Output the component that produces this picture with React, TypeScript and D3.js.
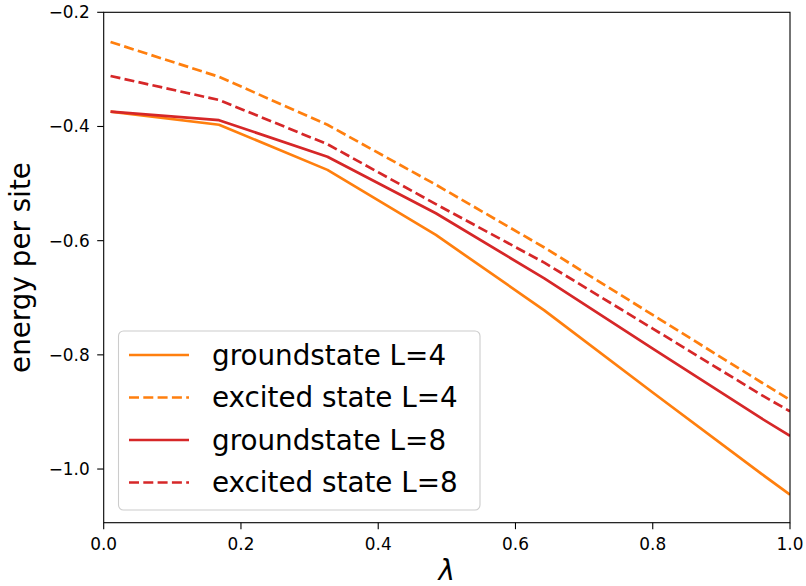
import React, { useEffect, useRef } from "react";
import * as d3 from "d3";

const lambdas = [0.01, 0.168, 0.326, 0.484, 0.642, 0.8, 0.958, 1.0];
const groundL4 = [-0.374, -0.397, -0.476, -0.59, -0.722, -0.866, -1.008, -1.045];
const excitedL4 = [-0.252, -0.313, -0.397, -0.502, -0.612, -0.73, -0.848, -0.879];
const groundL8 = [-0.374, -0.389, -0.453, -0.552, -0.666, -0.789, -0.911, -0.942];
const excitedL8 = [-0.3116, -0.3536, -0.431, -0.536, -0.6385, -0.754, -0.87, -0.899];

const seriesNames = ["groundstate L=4", "excited state L=4", "groundstate L=8", "excited state L=8"];
const seriesValues = [groundL4, excitedL4, groundL8, excitedL8];
const seriesColors = ["#ff7f0e", "#ff7f0e", "#d62728", "#d62728"];
const seriesDashed = [false, true, false, true];

const xTicks = [0, 0.2, 0.4, 0.6, 0.8, 1.0];
const yTicks = [-0.2, -0.4, -0.6, -0.8, -1.0];

const W = 806;
const H = 586;
const left = 103.7;
const right = 790;
const top = 12.3;
const bottom = 522.7;

export default function App() {
  const ref = useRef<SVGSVGElement>(null);

  useEffect(() => {
    const svg = d3.select(ref.current);
    svg.selectAll("*").remove();
    const font = "DejaVu Sans, sans-serif";
    const tickFont = 16.9;
    const bigFont = 27.8;
    const lw = 2.7;
    const dash = "10,4.3";

    const x = d3.scaleLinear().domain([0, 1]).range([left, right]);
    const y = d3.scaleLinear().domain([-1.094, -0.2]).range([bottom, top]);

    svg.append("rect").attr("width", W).attr("height", H).attr("fill", "white");

    svg.append("defs").append("clipPath").attr("id", "clip")
      .append("rect").attr("x", left).attr("y", top).attr("width", right - left).attr("height", bottom - top);

    const line = d3.line<number>()
      .x((_, i) => x(lambdas[i]))
      .y((d) => y(d));

    const g = svg.append("g").attr("clip-path", "url(#clip)");
    seriesValues.forEach((vals, k) => {
      g.append("path")
        .attr("d", line(vals) as string)
        .attr("fill", "none")
        .attr("stroke", seriesColors[k])
        .attr("stroke-width", lw)
        .attr("stroke-linejoin", "round")
        .attr("stroke-dasharray", seriesDashed[k] ? dash : null);
    });

    // frame
    svg.append("rect")
      .attr("x", left).attr("y", top)
      .attr("width", right - left).attr("height", bottom - top)
      .attr("fill", "none").attr("stroke", "black").attr("stroke-width", 1.1);

    // x ticks
    xTicks.forEach((t) => {
      svg.append("line").attr("x1", x(t)).attr("x2", x(t)).attr("y1", bottom).attr("y2", bottom + 6.5)
        .attr("stroke", "black").attr("stroke-width", 1.1);
      svg.append("text").attr("x", x(t)).attr("y", bottom + 14).attr("dy", "0.76em")
        .attr("text-anchor", "middle").attr("font-family", font).attr("font-size", tickFont)
        .text(d3.format(".1f")(t));
    });

    // y ticks
    yTicks.forEach((t) => {
      svg.append("line").attr("x1", left - 6.5).attr("x2", left).attr("y1", y(t)).attr("y2", y(t))
        .attr("stroke", "black").attr("stroke-width", 1.1);
      svg.append("text").attr("x", left - 14).attr("y", y(t)).attr("dy", "0.35em")
        .attr("text-anchor", "end").attr("font-family", font).attr("font-size", tickFont)
        .text(d3.format(".1f")(t).replace("-", "\u2212"));
    });

    // axis labels
    svg.append("text").attr("x", (left + right) / 2).attr("y", 580)
      .attr("text-anchor", "middle").attr("font-family", font).attr("font-size", bigFont)
      .attr("font-style", "italic").text("λ");
    svg.append("text")
      .attr("transform", `translate(30, ${(top + bottom) / 2}) rotate(-90)`)
      .attr("text-anchor", "middle").attr("font-family", font).attr("font-size", bigFont)
      .text("energy per site");

    // legend
    const lg = svg.append("g");
    lg.append("rect").attr("x", 118.5).attr("y", 331).attr("width", 361.5).attr("height", 179)
      .attr("rx", 5).attr("fill", "white").attr("fill-opacity", 0.8)
      .attr("stroke", "#cccccc").attr("stroke-width", 1.1);
    seriesNames.forEach((name, k) => {
      const cy = 355 + k * 42.5;
      lg.append("line").attr("x1", 129).attr("x2", 189).attr("y1", cy).attr("y2", cy)
        .attr("stroke", seriesColors[k]).attr("stroke-width", lw)
        .attr("stroke-dasharray", seriesDashed[k] ? dash : null);
      lg.append("text").attr("x", 212).attr("y", cy).attr("dy", "0.35em")
        .attr("font-family", font).attr("font-size", bigFont).text(name);
    });
  }, []);

  return (
    <svg ref={ref} width={W} height={H}
      style={{ position: "absolute", left: 0, top: 0, display: "block" }} />
  );
}
